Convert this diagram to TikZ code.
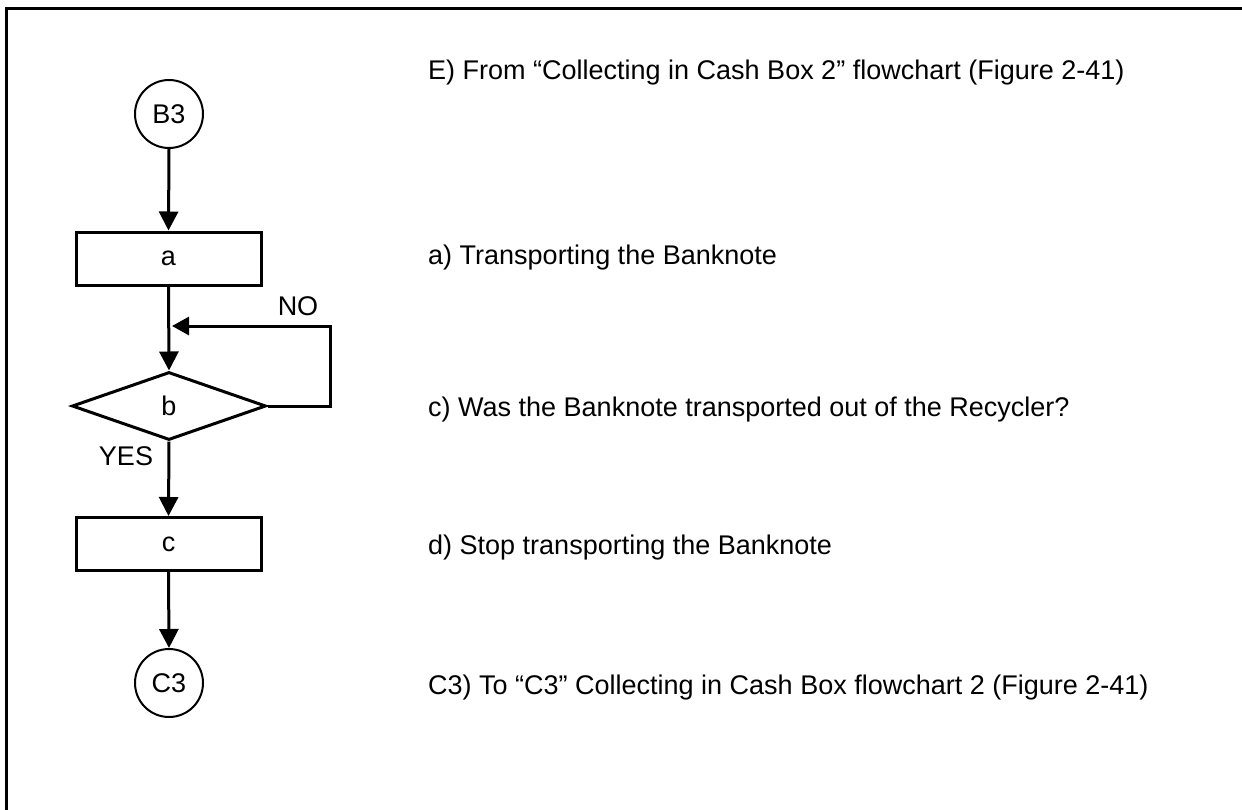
\documentclass[tikz,border=0pt]{standalone}
\usepackage{fontspec}
\setmainfont{Liberation Sans}
\usetikzlibrary{shapes.geometric,arrows.meta}
\begin{document}
\begin{tikzpicture}[x=1pt,y=-1pt,
  every node/.style={font=\fontsize{27}{31}\selectfont},
  conn/.style={draw, circle, line width=2pt, minimum size=68pt, inner sep=0pt},
  procbox/.style={draw, rectangle, line width=3pt, minimum width=185pt, minimum height=53pt, inner sep=0pt},
  decis/.style={draw, diamond, line width=3pt, minimum width=194pt, minimum height=68pt, aspect=2.85, inner sep=0pt},
  flow/.style={line width=3pt, -{Triangle[length=19pt,width=19pt]}},
  desc/.style={anchor=base west, inner sep=0pt},
  lbl/.style={inner sep=0pt}]
\useasboundingbox (0,0) rectangle (1242,809);
\draw[line width=3pt] (6,830) -- (6,8) -- (1260,8);

\node[conn] (B3) at (169,114) {B3};
\node[procbox] (a) at (168.5,258.5) {a};
\node[decis] (b) at (169,406) {b};
\node[procbox] (c) at (168.5,544) {c};
\node[conn] (C3) at (169,683) {C3};

\coordinate (loopR) at (330,406);
\coordinate (loopT) at (330,326);
\coordinate (loopEnd) at (172,326);

\draw[flow] (B3.south) -- (a.north);
\draw[flow] (a.south) -- (b.north);
\draw[flow] (b.south) -- (c.north);
\draw[flow] (c.south) -- (C3.north);
\draw[line width=3pt, -{Triangle[length=17pt,width=18pt]}] (b.east) -- (loopR) -- (loopT) -- (loopEnd);

\node[lbl] (no) at (298,306) {NO};
\node[lbl] (yes) at (126,456) {YES};

\node[desc] (tE) at (428,79) {E) From “Collecting in Cash Box 2” flowchart (Figure 2-41)};
\node[desc] (ta) at (428,264) {a) Transporting the Banknote};
\node[desc] (tc) at (428,416) {c) Was the Banknote transported out of the Recycler?};
\node[desc] (td) at (428,554) {d) Stop transporting the Banknote};
\node[desc] (tC) at (428,694) {C3) To “C3” Collecting in Cash Box flowchart 2 (Figure 2-41)};
\end{tikzpicture}
\end{document}
